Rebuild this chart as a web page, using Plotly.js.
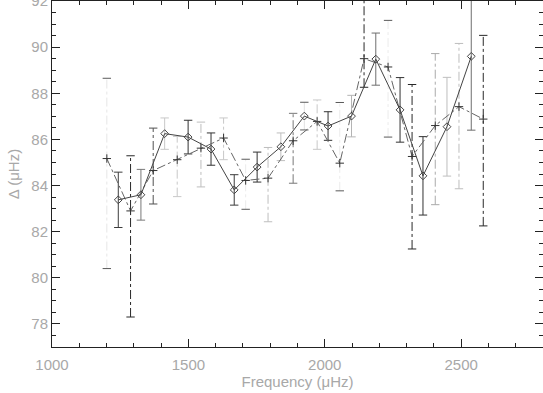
<!DOCTYPE html>
<html>
<head>
<meta charset="utf-8">
<script src="https://cdn.plot.ly/plotly-3.0.1.min.js"></script>
<style>
  body { margin: 0; background: #fff; }
  #chart { width: 543px; height: 393px; }
</style>
</head>
<body>
<div id="chart"></div>
<script>
// series A: open diamonds, solid line, solid error bars
var freqA  = [1243, 1326, 1413, 1499, 1583, 1668, 1752, 1839, 1925, 2012, 2098, 2187, 2276, 2360, 2448, 2537];
var deltaA = [83.38, 83.6, 86.25, 86.1, 85.58, 83.81, 84.8, 85.68, 87.01, 86.58, 87.01, 89.48, 87.28, 84.42, 86.55, 89.6];
var errA   = [1.2, 1.1, 0.68, 0.73, 0.7, 0.66, 0.65, 0.6, 0.6, 0.62, 0.9, 1.13, 1.4, 1.7, 2.14, 3.2];

// series B: plus signs, dash-dot line, dash-dot error bars (asymmetric)
var freqB   = [1201, 1288, 1371, 1459, 1546, 1629, 1710, 1792, 1884, 1972, 2055, 2144, 2232, 2320, 2405, 2492, 2581];
var deltaB  = [85.17, 82.9, 84.65, 85.12, 85.62, 86.06, 84.22, 84.32, 85.94, 86.78, 84.97, 89.5, 89.14, 85.26, 86.6, 87.42, 86.88];
var errUpB  = [3.48, 2.39, 1.84, 1.01, 1.13, 0.87, 0.92, 1.33, 1.19, 0.93, 2.63, 4.0, 2.02, 3.12, 3.12, 2.74, 3.63];
var errDnB  = [4.77, 4.6, 1.45, 1.6, 1.68, 0.94, 1.25, 1.89, 1.84, 1.21, 1.2, 1.24, 3.04, 4.01, 3.43, 3.56, 4.63];

// grey level of each error bar (0 = black, 255 = white)
var shadeA = [60, 120, 200, 50, 50, 60, 50, 190, 225, 50, 180, 110, 50, 50, 190, 110];
var shadeB = [230, 40, 80, 200, 190, 200, 235, 190, 120, 200, 235, 40, 235, 40, 170, 190, 40];

function grey(v) {
    return 'rgb(' + v + ',' + v + ',' + v + ')';
}

function addBars(traces, xs, ys, up, dn, shades, dash) {
    for (var i = 0; i < xs.length; i++) {
        var span = [ys[i] - dn[i], ys[i] + up[i]];
        traces.push({
            x: [xs[i], xs[i]], y: span, mode: 'lines', type: 'scatter',
            line: { color: grey(shades[i]), width: 1, dash: dash },
            hoverinfo: 'skip', showlegend: false
        });
        // caps stay visible even when the bar is nearly white
        var capShade = shades[i] > 220 ? 90 : shades[i];
        traces.push({
            x: [xs[i], xs[i]], y: span, mode: 'markers', type: 'scatter',
            marker: { symbol: 'line-ew', size: 6, line: { color: grey(capShade), width: 1 } },
            hoverinfo: 'skip', showlegend: false
        });
    }
}

var traces = [];
addBars(traces, freqA, deltaA, errA, errA, shadeA, 'solid');
addBars(traces, freqB, deltaB, errUpB, errDnB, shadeB, 'dashdot');

traces.push({
    x: freqB, y: deltaB, type: 'scatter', mode: 'lines+markers', name: 'B',
    line: { color: '#666', width: 1, dash: 'dashdot' },
    marker: { symbol: 'cross-thin', size: 6, line: { color: '#333', width: 1 } },
    showlegend: false
});
traces.push({
    x: freqA, y: deltaA, type: 'scatter', mode: 'lines+markers', name: 'A',
    line: { color: '#444', width: 1 },
    marker: { symbol: 'diamond-open', size: 6, color: '#444', line: { width: 1 } },
    showlegend: false
});

var tickFont = { family: 'Liberation Sans, Arial, sans-serif', size: 15, color: '#a8a8a8' };

var layout = {
    width: 543, height: 393,
    margin: { l: 52, r: 0, t: 1, b: 46 },
    paper_bgcolor: '#fff', plot_bgcolor: '#fff',
    showlegend: false,
    xaxis: {
        range: [1000, 2800],
        tickvals: [1000, 1500, 2000, 2500],
        ticks: 'inside', ticklen: 8, tickwidth: 1, tickcolor: '#222',
        minor: { dtick: 100, tick0: 1000, ticks: 'inside', ticklen: 4, tickcolor: '#222', showgrid: false },
        showline: true, linecolor: '#222', linewidth: 1, mirror: 'ticks',
        showgrid: false, zeroline: false,
        tickfont: tickFont, ticklabelstandoff: 4,
        title: { text: 'Frequency (μHz)', font: tickFont, standoff: 4 }
    },
    yaxis: {
        range: [77, 92],
        tick0: 78, dtick: 2,
        ticks: 'inside', ticklen: 8, tickwidth: 1, tickcolor: '#222',
        minor: { dtick: 0.5, tick0: 77, ticks: 'inside', ticklen: 4, tickcolor: '#222', showgrid: false },
        showline: true, linecolor: '#222', linewidth: 1, mirror: 'ticks',
        showgrid: false, zeroline: false,
        tickfont: tickFont, ticklabeloverflow: 'allow',
        title: { text: 'Δ (μHz)', font: tickFont, standoff: 8 }
    }
};

Plotly.newPlot('chart', traces, layout, { staticPlot: true });
</script>
</body>
</html>
